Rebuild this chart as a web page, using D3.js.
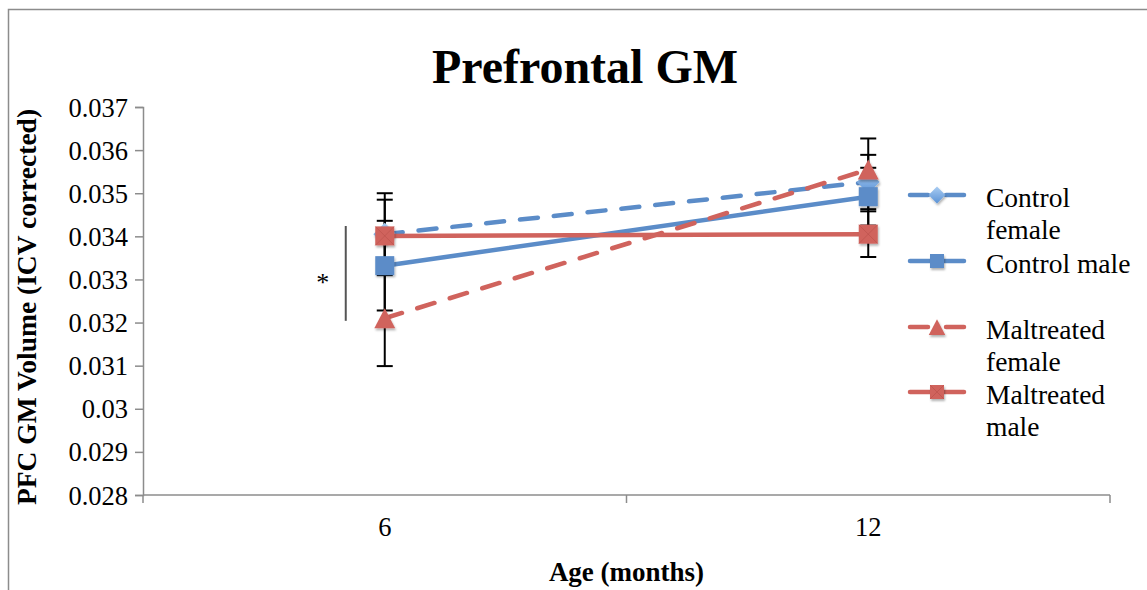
<!DOCTYPE html>
<html>
<head>
<meta charset="utf-8">
<script src="https://cdn.jsdelivr.net/npm/d3@7"></script>
<style>
  body { margin: 0; background: #fff; }
  svg { display: block; }
  text { font-family: "Liberation Serif", "DejaVu Serif", serif; fill: #000; }
</style>
</head>
<body>
<div id="chart"></div>
<script>
// ages on the x axis (months)
const ages = ['6', '12'];
const yTicks = [0.028, 0.029, 0.03, 0.031, 0.032, 0.033, 0.034, 0.035, 0.036, 0.037];
const yTickLabels = ['0.028', '0.029', '0.03', '0.031', '0.032', '0.033', '0.034', '0.035', '0.036', '0.037'];

// means and error bar half-widths, one entry per age
const controlFemale = [0.03405, 0.03526];
const controlFemaleErr = [0.00095, 0.00063];
const controlMale = [0.03332, 0.03492];
const controlMaleErr = [0.00104, 0.00067];
const maltreatedFemale = [0.0321, 0.03555];
const maltreatedFemaleErr = [0.00111, 0.00072];
const maltreatedMale = [0.03401, 0.03405];
const maltreatedMaleErr = [0.00084, 0.00053];

const blue = '#5b8cc8';
const red = '#d0635d';

const series = [
  { name: ['Control', 'female'], values: controlFemale, err: controlFemaleErr, colour: blue, dashed: true, marker: 'diamond' },
  { name: ['Control male'], values: controlMale, err: controlMaleErr, colour: blue, dashed: false, marker: 'square' },
  { name: ['Maltreated', 'female'], values: maltreatedFemale, err: maltreatedFemaleErr, colour: red, dashed: true, marker: 'triangle' },
  { name: ['Maltreated', 'male'], values: maltreatedMale, err: maltreatedMaleErr, colour: red, dashed: false, marker: 'square', cross: true }
];

const width = 1147;
const height = 590;
const margin = { top: 107, right: 37, bottom: 95, left: 143 };

const svg = d3.select('#chart')
  .append('svg')
  .attr('width', width)
  .attr('height', height);

const defs = svg.append('defs');
const shadow = defs.append('filter').attr('id', 'shadow')
  .attr('x', '-50%').attr('y', '-50%').attr('width', '200%').attr('height', '200%');
shadow.append('feDropShadow')
  .attr('dx', 1).attr('dy', 2).attr('stdDeviation', 1.2)
  .attr('flood-color', '#000').attr('flood-opacity', 0.3);
const grad = defs.append('linearGradient').attr('id', 'diamondFill')
  .attr('x1', 0).attr('y1', 0).attr('x2', 0).attr('y2', 1);
grad.append('stop').attr('offset', '0%').attr('stop-color', '#a9ccf2');
grad.append('stop').attr('offset', '100%').attr('stop-color', '#5b93d6');

svg.append('rect').attr('width', width).attr('height', height).attr('fill', '#fff');

// chart frame (only the top and left edges are in view)
svg.append('path')
  .attr('d', `M8.5,${height} V9.5 H${width}`)
  .attr('fill', 'none')
  .attr('stroke', '#8c8c8c')
  .attr('stroke-width', 1.5);

const x = d3.scaleBand()
  .domain(ages)
  .range([margin.left, width - margin.right])
  .padding(0);

const y = d3.scaleLinear()
  .domain([0.028, 0.037])
  .range([height - margin.bottom, margin.top]);

const xc = d => x(d) + x.bandwidth() / 2;

// y axis
const yAxis = svg.append('g')
  .attr('transform', `translate(${margin.left},0)`)
  .call(d3.axisLeft(y)
    .tickValues(yTicks)
    .tickSize(8)
    .tickPadding(7)
    .tickFormat((d, i) => yTickLabels[i]));
yAxis.select('.domain').attr('stroke', '#8c8c8c').attr('stroke-width', 1.5);
yAxis.selectAll('.tick line').attr('stroke', '#8c8c8c').attr('stroke-width', 1.5);
yAxis.selectAll('.tick text')
  .attr('font-family', '"Liberation Serif", serif')
  .attr('font-size', 26.5)
  .attr('dy', '0.34em')
  .attr('fill', '#000');

// x axis: ticks sit on the category boundaries, labels in the middle
const xAxis = svg.append('g');
const baseY = y(0.028);
xAxis.append('line')
  .attr('x1', x.range()[0]).attr('x2', x.range()[1])
  .attr('y1', baseY).attr('y2', baseY)
  .attr('stroke', '#8c8c8c').attr('stroke-width', 1.5);
const bounds = ages.map(d => x(d)).concat([x(ages[ages.length - 1]) + x.bandwidth()]);
xAxis.selectAll('.xtick')
  .data(bounds)
  .enter()
  .append('line')
  .attr('x1', d => d).attr('x2', d => d)
  .attr('y1', baseY).attr('y2', baseY + 8)
  .attr('stroke', '#8c8c8c').attr('stroke-width', 1.5);
xAxis.selectAll('.xlabel')
  .data(ages)
  .enter()
  .append('text')
  .attr('x', d => xc(d))
  .attr('y', baseY + 41)
  .attr('text-anchor', 'middle')
  .attr('font-size', 26.5)
  .text(d => d);

// axis titles
svg.append('text')
  .attr('x', xc(ages[0]) + x.bandwidth() / 2)
  .attr('y', 581)
  .attr('text-anchor', 'middle')
  .attr('font-size', 27)
  .attr('font-weight', 'bold')
  .text('Age (months)');

svg.append('text')
  .attr('transform', `translate(36,${(y(0.037) + y(0.028)) / 2 + 6}) rotate(-90)`)
  .attr('text-anchor', 'middle')
  .attr('font-size', 27.5)
  .attr('font-weight', 'bold')
  .text('PFC GM Volume (ICV corrected)');

// title
svg.append('text')
  .attr('x', 585)
  .attr('y', 83)
  .attr('text-anchor', 'middle')
  .attr('font-size', 48)
  .attr('font-weight', 'bold')
  .text('Prefrontal GM');

// significance marker at 6 months
svg.append('line')
  .attr('x1', xc('6') - 39).attr('x2', xc('6') - 39)
  .attr('y1', y(0.03424)).attr('y2', y(0.03204))
  .attr('stroke', '#555').attr('stroke-width', 2);
svg.append('text')
  .attr('x', xc('6') - 62)
  .attr('y', y(0.0331) + 16)
  .attr('text-anchor', 'middle')
  .attr('font-size', 26)
  .text('*');

// error bars
const capW = 8;
series.forEach(s => {
  const g = svg.append('g');
  s.values.forEach((v, i) => {
    const cx = xc(ages[i]);
    const top = y(v + s.err[i]);
    const bot = y(v - s.err[i]);
    g.append('line').attr('x1', cx).attr('x2', cx).attr('y1', top).attr('y2', bot)
      .attr('stroke', '#000').attr('stroke-width', 2);
    [top, bot].forEach(yy => {
      g.append('line').attr('x1', cx - capW).attr('x2', cx + capW).attr('y1', yy).attr('y2', yy)
        .attr('stroke', '#000').attr('stroke-width', 2);
    });
  });
});

const line = d3.line()
  .x((d, i) => xc(ages[i]))
  .y(d => y(d));

function drawMarker(g, s, cx, cy, size) {
  if (s.marker === 'square') {
    g.append('rect')
      .attr('x', cx - size / 2).attr('y', cy - size / 2)
      .attr('width', size).attr('height', size)
      .attr('fill', s.colour)
      .attr('filter', 'url(#shadow)');
    if (s.cross) {
      g.append('path')
        .attr('d', `M${cx - size / 2},${cy - size / 2}L${cx + size / 2},${cy + size / 2}M${cx + size / 2},${cy - size / 2}L${cx - size / 2},${cy + size / 2}`)
        .attr('stroke', '#a9443f').attr('stroke-opacity', 0.45).attr('stroke-width', 0.8);
    }
  } else if (s.marker === 'diamond') {
    const r = size * 0.6;
    g.append('path')
      .attr('d', `M${cx},${cy - r}L${cx + r},${cy}L${cx},${cy + r}L${cx - r},${cy}Z`)
      .attr('fill', 'url(#diamondFill)')
      .attr('filter', 'url(#shadow)');
  } else {
    const h = size * 1.05;
    g.append('path')
      .attr('d', `M${cx},${cy - h / 2}L${cx + size * 0.55},${cy + h / 2}L${cx - size * 0.55},${cy + h / 2}Z`)
      .attr('fill', s.colour)
      .attr('filter', 'url(#shadow)');
  }
}

// lines then markers, series in order
series.forEach(s => {
  const g = svg.append('g');
  g.append('path')
    .datum(s.values)
    .attr('d', line)
    .attr('fill', 'none')
    .attr('stroke', s.colour)
    .attr('stroke-width', 4.5)
    .attr('stroke-linecap', 'round')
    .attr('stroke-dasharray', s.dashed ? '18,16' : null);
  s.values.forEach((v, i) => drawMarker(g, s, xc(ages[i]), y(v), 19));
});

// legend
const legendRows = [195, 261, 327, 392];
const legend = svg.append('g');
series.forEach((s, i) => {
  const g = legend.append('g').attr('transform', `translate(908,${legendRows[i]})`);
  if (s.dashed) {
    g.append('line').attr('x1', 2).attr('x2', 20).attr('y1', 0).attr('y2', 0);
    g.append('line').attr('x1', 38).attr('x2', 56).attr('y1', 0).attr('y2', 0);
  } else {
    g.append('line').attr('x1', 2).attr('x2', 56).attr('y1', 0).attr('y2', 0);
  }
  g.selectAll('line')
    .attr('stroke', s.colour)
    .attr('stroke-width', 4.5)
    .attr('stroke-linecap', 'round');
  drawMarker(g, s, 29, 0, s.marker === 'triangle' ? 15 : 14);
  g.selectAll('.lbl')
    .data(s.name)
    .enter()
    .append('text')
    .attr('x', 78)
    .attr('y', (d, j) => 12 + j * 32)
    .attr('font-size', 27.5)
    .text(d => d);
});
</script>
</body>
</html>
